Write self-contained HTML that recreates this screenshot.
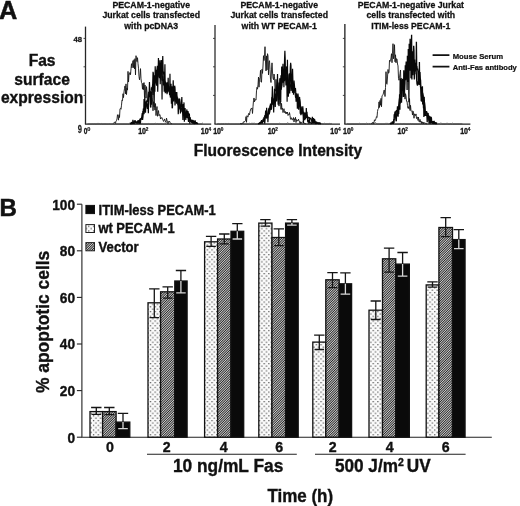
<!DOCTYPE html>
<html><head><meta charset="utf-8"><title>Figure</title>
<style>html,body{margin:0;padding:0;background:#fff;}body{width:520px;height:506px;overflow:hidden;}svg{display:block;will-change:transform;}text{font-family:"Liberation Sans",sans-serif;font-weight:bold;}</style>
</head><body>
<svg width="520" height="506" viewBox="0 0 520 506">
<defs>
<pattern id="dots" patternUnits="userSpaceOnUse" width="4.74" height="4.74"><rect width="4.74" height="4.74" fill="#fbfbfb"/><rect x="0.5" y="0.5" width="1.2" height="1.2" fill="#444"/><rect x="2.87" y="2.87" width="1.2" height="1.2" fill="#444"/></pattern>
<pattern id="hatch" patternUnits="userSpaceOnUse" width="1.7" height="1.7" patternTransform="rotate(-45)"><rect width="1.7" height="1.7" fill="#dadada"/><rect x="0" y="0" width="1.7" height="0.9" fill="#262626"/></pattern>
</defs>
<rect width="520" height="506" fill="#fff"/>
<text transform="translate(-0.9,18.7) scale(1.0,1.02)" font-size="25.3" text-anchor="start" fill="#111" stroke="#111" stroke-width="0.5" >A</text>
<text transform="translate(-0.6,216.3) scale(1.0,1.0)" font-size="24" text-anchor="start" fill="#111" stroke="#111" stroke-width="0.55" >B</text>
<text transform="translate(42.1,66.0) scale(1.0,1.05)" font-size="15.6" text-anchor="middle" fill="#111" stroke="#111" stroke-width="0.35" >Fas</text>
<text transform="translate(42.1,84.9) scale(1.0,1.05)" font-size="15.6" text-anchor="middle" fill="#111" stroke="#111" stroke-width="0.35" >surface</text>
<text transform="translate(42.1,103.3) scale(1.0,1.05)" font-size="15.6" text-anchor="middle" fill="#111" stroke="#111" stroke-width="0.35" >expression</text>
<text transform="translate(151.2,7.7) scale(1.0,1.04)" font-size="8.75" text-anchor="middle" fill="#111" stroke="#111" stroke-width="0.27" >PECAM-1-negative</text>
<text transform="translate(151.2,18.25) scale(1.0,1.04)" font-size="8.75" text-anchor="middle" fill="#111" stroke="#111" stroke-width="0.27" >Jurkat cells transfected</text>
<text transform="translate(151.2,28.8) scale(1.0,1.04)" font-size="8.75" text-anchor="middle" fill="#111" stroke="#111" stroke-width="0.27" >with pcDNA3</text>
<text transform="translate(279.2,7.7) scale(1.0,1.04)" font-size="8.75" text-anchor="middle" fill="#111" stroke="#111" stroke-width="0.27" >PECAM-1-negative</text>
<text transform="translate(279.2,18.25) scale(1.0,1.04)" font-size="8.75" text-anchor="middle" fill="#111" stroke="#111" stroke-width="0.27" >Jurkat cells transfected</text>
<text transform="translate(279.2,28.8) scale(1.0,1.04)" font-size="8.75" text-anchor="middle" fill="#111" stroke="#111" stroke-width="0.27" >with WT PECAM-1</text>
<text transform="translate(410.8,7.7) scale(1.0,1.04)" font-size="8.75" text-anchor="middle" fill="#111" stroke="#111" stroke-width="0.27" >PECAM-1-negative Jurkat</text>
<text transform="translate(410.8,18.25) scale(1.0,1.04)" font-size="8.75" text-anchor="middle" fill="#111" stroke="#111" stroke-width="0.27" >cells transfected with</text>
<text transform="translate(410.8,28.8) scale(1.0,1.04)" font-size="8.75" text-anchor="middle" fill="#111" stroke="#111" stroke-width="0.27" >ITIM-less PECAM-1</text>
<text transform="translate(277.9,156.2) scale(1.0,1.07)" font-size="15.55" text-anchor="middle" fill="#111" stroke="#111" stroke-width="0.35" >Fluorescence Intensity</text>
<path d="M85.5 26.6V124.1" fill="none" stroke="#262626" stroke-width="1.3"/>
<path d="M84.9 124.1H211.2" fill="none" stroke="#222" stroke-width="1.2"/>
<path d="M83.5 38.4H85.5" stroke="#333" stroke-width="0.9"/>
<path d="M83.5 66.8H85.5" stroke="#333" stroke-width="0.9"/>
<path d="M83.5 95.4H85.5" stroke="#333" stroke-width="0.9"/>
<text transform="translate(85.5,133.9) scale(0.78,1.0)" font-size="8.4" text-anchor="middle" fill="#1a1a1a" stroke="#1a1a1a" stroke-width="0.35" >0</text>
<text transform="translate(88.9,130.9) scale(1.0,1.0)" font-size="5.6" text-anchor="middle" fill="#1a1a1a" stroke="#1a1a1a" stroke-width="0.2" >0</text>
<text transform="translate(142.1,133.8) scale(1.0,1.16)" font-size="7.1" text-anchor="middle" fill="#1a1a1a" stroke="#1a1a1a" stroke-width="0.32" >10</text>
<text transform="translate(147.1,130.8) scale(1.0,1.1)" font-size="4.7" text-anchor="middle" fill="#1a1a1a" stroke="#1a1a1a" stroke-width="0.22" >2</text>
<text transform="translate(204.7,133.8) scale(1.0,1.16)" font-size="7.1" text-anchor="middle" fill="#1a1a1a" stroke="#1a1a1a" stroke-width="0.32" >10</text>
<text transform="translate(209.7,130.8) scale(1.0,1.1)" font-size="4.7" text-anchor="middle" fill="#1a1a1a" stroke="#1a1a1a" stroke-width="0.22" >4</text>
<path d="M215.0 25.1V124.1" fill="none" stroke="#4a4a4a" stroke-width="1.5"/>
<path d="M214.4 124.1H340.0" fill="none" stroke="#222" stroke-width="1.2"/>
<path d="M213.0 38.4H215.0" stroke="#333" stroke-width="0.9"/>
<path d="M213.0 66.8H215.0" stroke="#333" stroke-width="0.9"/>
<path d="M213.0 95.4H215.0" stroke="#333" stroke-width="0.9"/>
<text transform="translate(217.1,133.8) scale(1.0,1.16)" font-size="7.1" text-anchor="middle" fill="#1a1a1a" stroke="#1a1a1a" stroke-width="0.32" >10</text>
<text transform="translate(222.1,130.8) scale(1.0,1.1)" font-size="4.7" text-anchor="middle" fill="#1a1a1a" stroke="#1a1a1a" stroke-width="0.22" >0</text>
<text transform="translate(271.6,133.8) scale(1.0,1.16)" font-size="7.1" text-anchor="middle" fill="#1a1a1a" stroke="#1a1a1a" stroke-width="0.32" >10</text>
<text transform="translate(276.6,130.8) scale(1.0,1.1)" font-size="4.7" text-anchor="middle" fill="#1a1a1a" stroke="#1a1a1a" stroke-width="0.22" >2</text>
<text transform="translate(334.2,133.8) scale(1.0,1.16)" font-size="7.1" text-anchor="middle" fill="#1a1a1a" stroke="#1a1a1a" stroke-width="0.32" >10</text>
<text transform="translate(339.2,130.8) scale(1.0,1.1)" font-size="4.7" text-anchor="middle" fill="#1a1a1a" stroke="#1a1a1a" stroke-width="0.22" >4</text>
<path d="M344.85 23.9V124.1" fill="none" stroke="#3c3c3c" stroke-width="1.5"/>
<path d="M344.25 124.1H470.4" fill="none" stroke="#222" stroke-width="1.2"/>
<path d="M342.85 38.4H344.85" stroke="#333" stroke-width="0.9"/>
<path d="M342.85 66.8H344.85" stroke="#333" stroke-width="0.9"/>
<path d="M342.85 95.4H344.85" stroke="#333" stroke-width="0.9"/>
<text transform="translate(347.0,133.8) scale(1.0,1.16)" font-size="7.1" text-anchor="middle" fill="#1a1a1a" stroke="#1a1a1a" stroke-width="0.32" >10</text>
<text transform="translate(352.0,130.8) scale(1.0,1.1)" font-size="4.7" text-anchor="middle" fill="#1a1a1a" stroke="#1a1a1a" stroke-width="0.22" >0</text>
<text transform="translate(401.5,133.8) scale(1.0,1.16)" font-size="7.1" text-anchor="middle" fill="#1a1a1a" stroke="#1a1a1a" stroke-width="0.32" >10</text>
<text transform="translate(406.5,130.8) scale(1.0,1.1)" font-size="4.7" text-anchor="middle" fill="#1a1a1a" stroke="#1a1a1a" stroke-width="0.22" >2</text>
<text transform="translate(464.1,133.8) scale(1.0,1.16)" font-size="7.1" text-anchor="middle" fill="#1a1a1a" stroke="#1a1a1a" stroke-width="0.32" >10</text>
<text transform="translate(469.1,130.8) scale(1.0,1.1)" font-size="4.7" text-anchor="middle" fill="#1a1a1a" stroke="#1a1a1a" stroke-width="0.22" >4</text>
<text transform="translate(77.7,41.5) scale(1.0,1.05)" font-size="7.7" text-anchor="middle" fill="#1a1a1a" stroke="#1a1a1a" stroke-width="0.3" >48</text>
<text transform="translate(79.8,133.2) scale(0.64,1.0)" font-size="11.8" text-anchor="middle" fill="#1a1a1a" stroke="#1a1a1a" stroke-width="0.25" font-weight="normal">9</text>
<path d="M87.50 123.70 L88.20 123.70 L88.90 123.70 L89.60 123.70 L90.30 123.70 L91.00 123.70 L91.70 123.70 L92.40 123.62 L93.10 123.70 L93.80 123.70 L94.50 123.57 L95.20 123.70 L95.90 123.70 L96.60 123.70 L97.30 123.70 L98.00 122.94 L98.70 123.70 L99.40 123.53 L100.10 123.70 L100.80 123.70 L101.50 123.48 L102.20 123.70 L102.90 123.70 L103.60 123.70 L104.30 123.70 L105.00 123.35 L105.70 123.70 L106.40 123.70 L107.10 123.70 L107.80 123.70 L108.50 123.70 L109.20 123.56 L109.90 123.70 L110.60 123.70 L111.30 123.70 L112.00 123.70 L112.70 123.70 L113.40 123.70 L114.10 123.70 L114.80 123.70 L115.50 123.24 L116.20 123.70 L116.90 123.70 L117.60 123.70 L118.30 123.70 L119.00 123.70 L119.70 123.70 L120.40 123.70 L121.10 123.70 L121.80 123.70 L122.50 123.70 L123.20 123.70 L123.90 123.70 L124.60 123.70 L125.30 123.70 L126.00 123.70 L126.70 123.70 L127.40 123.70 L128.10 123.70 L128.80 123.70 L129.50 123.16 L130.20 123.70 L130.90 123.56 L131.60 123.70 L132.30 123.57 L133.00 123.70 L133.70 123.00 L134.40 123.70 L135.10 123.70 L135.80 123.70 L136.50 123.70 L137.20 123.70 L137.90 123.70 L138.60 123.70 L139.30 123.70 L140.00 123.44 L140.70 123.65 L141.40 123.70 L142.10 123.70 L142.80 123.30 L143.50 123.70 L144.20 123.70 L144.90 123.70 L145.60 123.70 L146.30 123.70 L147.00 123.70 L147.70 123.70 L148.40 123.44 L149.10 123.70 L149.80 123.70 L150.50 123.70 L151.20 123.70 L151.90 123.70 L152.60 123.70 L153.30 123.70 L154.00 123.70 L154.70 123.44 L155.40 123.27 L156.10 123.55 L156.80 123.70 L157.50 123.49 L158.20 123.70 L158.90 123.70 L159.60 123.70 L160.30 123.70 L161.00 123.19 L161.70 123.70 L162.40 123.70 L163.10 123.70 L163.80 123.70 L164.50 123.30 L165.20 123.40 L165.90 123.70 L166.60 122.36 L167.30 123.70 L168.00 123.50 L168.70 123.70 L169.40 123.70 L170.10 123.70 L170.80 123.70 L171.50 123.70 L172.20 123.70 L172.90 123.61 L173.60 123.70 L174.30 123.70 L175.00 123.70 L175.70 123.70 L176.40 123.70 L177.10 123.70 L177.80 123.70 L178.50 123.70 L179.20 123.70 L179.90 123.70 L180.60 123.70 L181.30 123.70 L182.00 123.70 L182.70 123.70 L183.40 123.70 L184.10 123.70 L184.80 123.70 L185.50 123.70 L186.20 123.70 L186.90 123.28 L187.60 123.58 L188.30 123.70 L189.00 123.70 L189.70 123.70 L190.40 123.70 L191.10 123.70 L191.80 123.70 L192.50 123.35 L193.20 123.70 L193.90 123.70 L194.60 123.70 L195.30 123.70 L196.00 123.70 L196.70 123.58 L197.40 123.70 L198.10 123.70 L198.80 123.70 L199.50 123.70 L200.20 123.70 L200.90 123.70 L201.60 123.70 L202.30 123.01 L203.00 123.70" fill="none" stroke="#333" stroke-width="0.6"/>
<path d="M113.00 123.07 L113.50 123.15 L114.00 122.63 L114.50 122.21 L115.00 123.01 L115.50 123.31 L116.00 120.94 L116.50 120.57 L117.00 118.98 L117.50 114.71 L118.00 116.55 L118.50 120.16 L119.00 114.68 L119.50 117.54 L120.00 108.77 L120.50 108.33 L121.00 109.25 L121.50 105.17 L122.00 99.95 L122.50 100.60 L123.00 93.72 L123.50 97.61 L124.00 91.71 L124.50 88.48 L125.00 85.92 L125.50 93.82 L126.00 83.89 L126.50 94.58 L127.00 87.99 L127.50 90.11 L128.00 71.39 L128.50 82.04 L129.00 73.77 L129.50 74.21 L130.00 72.44 L130.50 74.71 L131.00 68.83 L131.50 63.70 L132.00 67.86 L132.50 64.10 L133.00 60.66 L133.50 67.64 L134.00 59.70 L134.50 69.00 L135.00 58.61 L135.50 74.94 L136.00 55.70 L136.50 59.41 L137.00 61.63 L137.50 57.70 L138.00 63.55 L138.50 68.16 L139.00 76.63 L139.50 79.82 L140.00 75.81 L140.50 68.64 L141.00 78.86 L141.50 82.57 L142.00 83.65 L142.50 89.24 L143.00 83.28 L143.50 89.67 L144.00 82.57 L144.50 97.08 L145.00 84.98 L145.50 90.90 L146.00 98.16 L146.50 86.64 L147.00 91.97 L147.50 101.44 L148.00 96.06 L148.50 91.83 L149.00 96.19 L149.50 91.95 L150.00 93.15 L150.50 94.36 L151.00 96.37 L151.50 93.28 L152.00 97.36 L152.50 99.80 L153.00 110.75 L153.50 101.79 L154.00 102.12 L154.50 108.72 L155.00 110.15 L155.50 103.56 L156.00 115.59 L156.50 110.40 L157.00 106.56 L157.50 116.29 L158.00 113.04 L158.50 110.57 L159.00 115.74 L159.50 114.74 L160.00 114.65 L160.50 119.05 L161.00 117.99 L161.50 117.87 L162.00 117.50 L162.50 119.44 L163.00 120.01 L163.50 121.44 L164.00 120.59 L164.50 118.95 L165.00 120.39 L165.50 121.97 L166.00 122.18 L166.50 118.11 L167.00 120.32 L167.50 121.17 L168.00 123.70 L168.50 121.59 L169.00 121.90 L169.50 121.13 L170.00 122.49 L170.50 123.13 L171.00 123.09 L171.50 123.70 L172.00 123.33" fill="none" stroke="#151515" stroke-width="0.9" stroke-linejoin="bevel"/>
<path d="M130.00 123.50 L130.36 123.70 L130.72 123.70 L131.08 123.70 L131.44 123.55 L131.80 123.70 L132.16 123.70 L132.52 123.70 L132.88 119.77 L133.24 121.23 L133.60 123.70 L133.96 123.59 L134.32 123.52 L134.68 122.47 L135.04 121.10 L135.40 121.76 L135.76 121.97 L136.12 123.51 L136.48 122.16 L136.84 121.62 L137.20 122.09 L137.56 123.70 L137.92 120.60 L138.28 121.69 L138.64 123.70 L139.00 120.66 L139.36 123.25 L139.72 123.70 L140.08 121.11 L140.44 123.64 L140.80 118.38 L141.16 118.96 L141.52 118.83 L141.88 115.84 L142.24 113.05 L142.60 119.97 L142.96 115.78 L143.32 108.61 L143.68 113.38 L144.04 99.05 L144.40 110.38 L144.76 96.87 L145.12 104.06 L145.48 108.07 L145.84 106.74 L146.20 101.98 L146.56 102.88 L146.92 102.66 L147.28 108.96 L147.64 105.61 L148.00 103.53 L148.36 113.31 L148.72 94.17 L149.08 97.25 L149.44 82.03 L149.80 90.63 L150.16 95.18 L150.52 107.21 L150.88 107.15 L151.24 91.60 L151.60 104.82 L151.96 97.53 L152.32 87.14 L152.68 84.00 L153.04 71.87 L153.40 73.66 L153.76 92.57 L154.12 106.99 L154.48 82.02 L154.84 91.86 L155.20 66.24 L155.56 78.20 L155.92 78.82 L156.28 83.47 L156.64 85.72 L157.00 75.34 L157.36 65.70 L157.72 91.74 L158.08 75.02 L158.44 57.90 L158.80 70.18 L159.16 72.97 L159.52 78.21 L159.88 60.20 L160.24 84.17 L160.60 71.59 L160.96 66.35 L161.32 60.07 L161.68 65.54 L162.04 99.54 L162.40 65.70 L162.76 56.13 L163.12 72.02 L163.48 71.47 L163.84 76.56 L164.20 91.79 L164.56 80.42 L164.92 64.19 L165.28 93.30 L165.64 83.79 L166.00 89.27 L166.36 92.39 L166.72 84.33 L167.08 90.97 L167.44 82.35 L167.80 92.48 L168.16 77.82 L168.52 89.35 L168.88 90.20 L169.24 87.91 L169.60 95.25 L169.96 73.76 L170.32 97.60 L170.68 93.61 L171.04 83.70 L171.40 103.75 L171.76 86.31 L172.12 108.23 L172.48 107.56 L172.84 92.26 L173.20 80.31 L173.56 91.57 L173.92 100.35 L174.28 92.30 L174.64 85.70 L175.00 87.68 L175.36 101.68 L175.72 95.95 L176.08 91.95 L176.44 103.64 L176.80 92.07 L177.16 100.30 L177.52 98.04 L177.88 98.06 L178.24 114.25 L178.60 108.06 L178.96 109.38 L179.32 99.05 L179.68 98.91 L180.04 102.37 L180.40 113.52 L180.76 105.92 L181.12 107.03 L181.48 102.79 L181.84 97.07 L182.20 111.19 L182.56 111.22 L182.92 119.92 L183.28 104.11 L183.64 110.02 L184.00 102.39 L184.36 121.75 L184.72 108.73 L185.08 107.93 L185.44 114.28 L185.80 119.87 L186.16 115.01 L186.52 114.60 L186.88 109.40 L187.24 118.09 L187.60 115.93 L187.96 111.09 L188.32 112.99 L188.68 115.59 L189.04 116.96 L189.40 113.59 L189.76 123.70 L190.12 117.13 L190.48 121.61 L190.84 119.74 L191.20 121.07 L191.56 122.71 L191.92 121.99 L192.28 123.17 L192.64 119.88 L193.00 122.19 L193.36 123.70 L193.72 120.72 L194.08 122.40 L194.44 123.70 L194.80 123.65 L195.16 120.37 L195.52 122.75 L195.88 123.70 L196.24 122.79 L196.60 122.62 L196.96 122.97 L197.32 123.63 L197.68 123.29" fill="none" stroke="#080808" stroke-width="1.2" stroke-linejoin="bevel"/>
<path d="M130.00 123.70 L130.50 123.24 L131.00 123.18 L131.50 122.13 L132.00 123.70 L132.50 122.93 L133.00 123.70 L133.50 121.77 L134.00 122.70 L134.50 121.47 L135.00 120.22 L135.50 122.11 L136.00 122.27 L136.50 122.45 L137.00 122.74 L137.50 122.38 L138.00 120.73 L138.50 121.10 L139.00 120.72 L139.50 120.69 L140.00 118.85 L140.50 119.16 L141.00 119.91 L141.50 117.71 L142.00 117.81 L142.50 118.40 L143.00 111.07 L143.50 111.73 L144.00 114.09 L144.50 107.78 L145.00 108.65 L145.50 112.68 L146.00 101.15 L146.50 103.27 L147.00 99.73 L147.50 101.00 L148.00 101.14 L148.50 104.75 L149.00 93.39 L149.50 95.28 L150.00 95.23 L150.50 91.71 L151.00 91.58 L151.50 87.40 L152.00 90.21 L152.50 86.93 L153.00 95.06 L153.50 85.69 L154.00 79.45 L154.50 75.37 L155.00 82.42 L155.50 79.81 L156.00 69.73 L156.50 78.22 L157.00 71.89 L157.50 66.55 L158.00 74.52 L158.50 67.58 L159.00 77.20 L159.50 71.80 L160.00 73.34 L160.50 73.21 L161.00 69.01 L161.50 63.60 L162.00 80.12 L162.50 80.50 L163.00 76.35 L163.50 85.49 L164.00 79.18 L164.50 79.82 L165.00 84.49 L165.50 81.50 L166.00 92.27 L166.50 82.65 L167.00 94.19 L167.50 91.20 L168.00 91.17 L168.50 91.00 L169.00 86.25 L169.50 90.55 L170.00 93.58 L170.50 90.65 L171.00 87.40 L171.50 94.71 L172.00 93.95 L172.50 90.88 L173.00 95.07 L173.50 101.57 L174.00 87.41 L174.50 89.08 L175.00 105.57 L175.50 98.57 L176.00 97.14 L176.50 95.60 L177.00 97.44 L177.50 101.68 L178.00 105.24 L178.50 101.86 L179.00 99.15 L179.50 106.99 L180.00 107.59 L180.50 105.28 L181.00 112.29 L181.50 107.89 L182.00 109.01 L182.50 106.87 L183.00 110.94 L183.50 112.24 L184.00 111.77 L184.50 111.76 L185.00 114.15 L185.50 113.17 L186.00 111.92 L186.50 111.44 L187.00 111.09 L187.50 117.36 L188.00 117.36 L188.50 121.96 L189.00 114.21 L189.50 119.44 L190.00 118.88 L190.50 118.78 L191.00 122.14 L191.50 120.10 L192.00 120.93 L192.50 123.36 L193.00 121.20 L193.50 120.67 L194.00 123.70 L194.50 121.84 L195.00 122.54 L195.50 122.49 L196.00 122.72 L196.50 122.51 L197.00 123.50 L197.50 123.29 L198.00 123.70" fill="none" stroke="#080808" stroke-width="1.2" stroke-linejoin="bevel"/>
<path d="M217.00 123.70 L217.70 123.70 L218.40 123.47 L219.10 123.70 L219.80 123.70 L220.50 123.70 L221.20 123.70 L221.90 123.48 L222.60 123.70 L223.30 123.70 L224.00 123.70 L224.70 122.97 L225.40 123.70 L226.10 123.51 L226.80 123.70 L227.50 123.70 L228.20 123.70 L228.90 123.27 L229.60 123.70 L230.30 123.70 L231.00 123.70 L231.70 123.70 L232.40 123.70 L233.10 123.70 L233.80 123.70 L234.50 123.70 L235.20 123.70 L235.90 123.70 L236.60 123.70 L237.30 123.70 L238.00 123.70 L238.70 123.70 L239.40 123.70 L240.10 123.70 L240.80 123.70 L241.50 123.70 L242.20 123.70 L242.90 123.01 L243.60 123.70 L244.30 123.70 L245.00 123.64 L245.70 123.70 L246.40 123.70 L247.10 123.70 L247.80 123.70 L248.50 123.70 L249.20 123.05 L249.90 123.70 L250.60 123.70 L251.30 123.70 L252.00 122.78 L252.70 123.70 L253.40 123.70 L254.10 122.76 L254.80 123.70 L255.50 123.70 L256.20 123.70 L256.90 123.70 L257.60 123.70 L258.30 123.61 L259.00 123.70 L259.70 123.70 L260.40 123.70 L261.10 123.70 L261.80 123.70 L262.50 123.70 L263.20 123.31 L263.90 123.70 L264.60 123.70 L265.30 123.70 L266.00 123.70 L266.70 123.56 L267.40 123.70 L268.10 123.70 L268.80 123.70 L269.50 123.70 L270.20 123.70 L270.90 123.70 L271.60 123.70 L272.30 123.70 L273.00 123.70 L273.70 123.70 L274.40 123.70 L275.10 123.70 L275.80 123.70 L276.50 123.62 L277.20 123.70 L277.90 123.70 L278.60 123.70 L279.30 123.30 L280.00 123.28 L280.70 123.70 L281.40 123.70 L282.10 123.70 L282.80 123.70 L283.50 123.70 L284.20 123.70 L284.90 123.70 L285.60 123.70 L286.30 123.70 L287.00 123.70 L287.70 122.56 L288.40 123.70 L289.10 123.70 L289.80 123.70 L290.50 123.70 L291.20 123.70 L291.90 123.70 L292.60 123.70 L293.30 123.40 L294.00 123.70 L294.70 123.70 L295.40 123.70 L296.10 123.35 L296.80 123.70 L297.50 123.70 L298.20 123.70 L298.90 123.70 L299.60 123.70 L300.30 123.70 L301.00 123.05 L301.70 123.02 L302.40 123.70 L303.10 123.70 L303.80 122.60 L304.50 123.70 L305.20 123.70 L305.90 123.70 L306.60 123.70 L307.30 123.70 L308.00 123.70 L308.70 123.70 L309.40 123.70 L310.10 123.70 L310.80 123.70 L311.50 123.70 L312.20 123.70 L312.90 122.98 L313.60 123.70 L314.30 123.70 L315.00 123.70 L315.70 123.70 L316.40 123.70 L317.10 123.52 L317.80 123.70 L318.50 123.70 L319.20 123.70 L319.90 123.70 L320.60 123.70 L321.30 123.70 L322.00 123.25 L322.70 123.70 L323.40 123.70 L324.10 123.70 L324.80 123.09 L325.50 123.70 L326.20 123.70 L326.90 123.70 L327.60 123.70 L328.30 123.70 L329.00 123.70 L329.70 123.39 L330.40 123.70 L331.10 123.70 L331.80 123.32" fill="none" stroke="#333" stroke-width="0.6"/>
<path d="M240.00 123.70 L240.50 123.53 L241.00 123.39 L241.50 123.70 L242.00 123.70 L242.50 123.10 L243.00 123.58 L243.50 122.23 L244.00 121.26 L244.50 121.73 L245.00 121.43 L245.50 120.61 L246.00 116.62 L246.50 122.29 L247.00 115.70 L247.50 116.57 L248.00 117.08 L248.50 113.62 L249.00 113.55 L249.50 114.75 L250.00 111.59 L250.50 110.09 L251.00 108.46 L251.50 108.64 L252.00 107.95 L252.50 113.46 L253.00 106.63 L253.50 100.44 L254.00 97.98 L254.50 101.84 L255.00 99.49 L255.50 99.89 L256.00 100.12 L256.50 90.86 L257.00 87.31 L257.50 89.14 L258.00 84.82 L258.50 77.02 L259.00 87.17 L259.50 79.16 L260.00 77.61 L260.50 70.27 L261.00 82.03 L261.50 82.16 L262.00 69.25 L262.50 73.39 L263.00 66.02 L263.50 55.70 L264.00 60.59 L264.50 56.29 L265.00 46.70 L265.50 60.92 L266.00 70.95 L266.50 55.89 L267.00 69.91 L267.50 53.70 L268.00 55.80 L268.50 74.93 L269.00 62.24 L269.50 60.70 L270.00 69.58 L270.50 79.26 L271.00 82.54 L271.50 69.91 L272.00 62.85 L272.50 71.98 L273.00 77.98 L273.50 79.74 L274.00 74.03 L274.50 76.39 L275.00 88.38 L275.50 91.28 L276.00 79.31 L276.50 91.48 L277.00 89.04 L277.50 89.13 L278.00 99.80 L278.50 100.88 L279.00 106.12 L279.50 98.38 L280.00 104.23 L280.50 101.28 L281.00 109.42 L281.50 103.42 L282.00 109.38 L282.50 108.26 L283.00 112.59 L283.50 110.34 L284.00 108.69 L284.50 112.25 L285.00 112.97 L285.50 111.57 L286.00 113.95 L286.50 112.23 L287.00 113.54 L287.50 112.05 L288.00 115.47 L288.50 114.58 L289.00 114.96 L289.50 112.54 L290.00 115.47 L290.50 118.96 L291.00 119.58 L291.50 117.72 L292.00 118.75 L292.50 119.87 L293.00 119.59 L293.50 117.56 L294.00 121.95 L294.50 118.74 L295.00 119.83 L295.50 117.30 L296.00 122.50 L296.50 119.59 L297.00 120.78 L297.50 120.67 L298.00 120.55 L298.50 119.15 L299.00 121.23 L299.50 121.38 L300.00 123.47 L300.50 121.76 L301.00 123.60 L301.50 122.67 L302.00 122.32 L302.50 121.77 L303.00 122.28 L303.50 122.95 L304.00 122.80 L304.50 123.47 L305.00 123.48 L305.50 123.64 L306.00 123.41" fill="none" stroke="#151515" stroke-width="0.9" stroke-linejoin="bevel"/>
<path d="M258.00 123.70 L258.32 123.70 L258.64 123.70 L258.96 123.58 L259.28 123.70 L259.60 122.94 L259.92 123.66 L260.24 123.70 L260.56 121.57 L260.88 122.01 L261.20 122.25 L261.52 120.10 L261.84 123.70 L262.16 121.85 L262.48 123.67 L262.80 121.11 L263.12 118.72 L263.44 121.12 L263.76 121.33 L264.08 119.40 L264.40 117.75 L264.72 123.70 L265.04 120.43 L265.36 114.77 L265.68 110.47 L266.00 112.85 L266.32 117.60 L266.64 107.83 L266.96 113.92 L267.28 117.82 L267.60 114.85 L267.92 122.28 L268.24 114.92 L268.56 110.14 L268.88 112.08 L269.20 114.40 L269.52 112.75 L269.84 110.71 L270.16 108.07 L270.48 103.46 L270.80 104.65 L271.12 109.09 L271.44 109.00 L271.76 97.35 L272.08 97.17 L272.40 86.21 L272.72 100.01 L273.04 103.27 L273.36 98.41 L273.68 112.39 L274.00 102.16 L274.32 101.59 L274.64 89.89 L274.96 94.83 L275.28 107.08 L275.60 94.31 L275.92 100.10 L276.24 97.47 L276.56 101.54 L276.88 85.14 L277.20 87.33 L277.52 73.98 L277.84 93.54 L278.16 104.85 L278.48 94.78 L278.80 91.04 L279.12 82.52 L279.44 99.72 L279.76 93.43 L280.08 77.94 L280.40 92.53 L280.72 102.01 L281.04 78.65 L281.36 89.77 L281.68 66.56 L282.00 75.61 L282.32 66.66 L282.64 82.63 L282.96 63.70 L283.28 81.29 L283.60 70.28 L283.92 87.35 L284.24 71.36 L284.56 59.10 L284.88 50.70 L285.20 59.13 L285.52 76.48 L285.84 74.25 L286.16 78.77 L286.48 85.33 L286.80 77.54 L287.12 101.73 L287.44 59.70 L287.76 87.17 L288.08 74.30 L288.40 96.66 L288.72 85.01 L289.04 81.16 L289.36 90.91 L289.68 93.41 L290.00 82.68 L290.32 67.17 L290.64 62.70 L290.96 65.44 L291.28 82.10 L291.60 85.56 L291.92 84.97 L292.24 77.20 L292.56 68.70 L292.88 79.86 L293.20 83.47 L293.52 94.74 L293.84 86.20 L294.16 93.05 L294.48 87.63 L294.80 89.91 L295.12 91.10 L295.44 88.11 L295.76 91.80 L296.08 101.62 L296.40 93.24 L296.72 99.98 L297.04 93.64 L297.36 108.75 L297.68 95.58 L298.00 103.88 L298.32 101.26 L298.64 109.75 L298.96 103.44 L299.28 98.62 L299.60 96.96 L299.92 102.08 L300.24 113.80 L300.56 112.88 L300.88 115.24 L301.20 106.61 L301.52 113.31 L301.84 109.26 L302.16 110.76 L302.48 111.30 L302.80 106.27 L303.12 113.45 L303.44 123.30 L303.76 111.69 L304.08 116.57 L304.40 117.06 L304.72 120.10 L305.04 113.82 L305.36 119.34 L305.68 113.32 L306.00 117.73 L306.32 108.03 L306.64 116.94 L306.96 111.80 L307.28 116.11 L307.60 120.79 L307.92 122.38 L308.24 120.81 L308.56 119.68 L308.88 123.70 L309.20 118.90 L309.52 118.58 L309.84 122.90 L310.16 122.34 L310.48 122.92 L310.80 122.58 L311.12 123.70 L311.44 122.81 L311.76 123.70 L312.08 119.68 L312.40 116.78 L312.72 120.19 L313.04 123.70 L313.36 118.11 L313.68 121.57 L314.00 119.71 L314.32 123.70 L314.64 120.66 L314.96 122.59 L315.28 122.46 L315.60 123.70 L315.92 123.70 L316.24 123.70 L316.56 121.63 L316.88 123.70 L317.20 122.91 L317.52 123.03 L317.84 122.62 L318.16 123.47 L318.48 123.70 L318.80 123.04 L319.12 123.70 L319.44 123.42 L319.76 122.41 L320.08 123.42 L320.40 123.70 L320.72 122.83" fill="none" stroke="#080808" stroke-width="1.2" stroke-linejoin="bevel"/>
<path d="M258.00 123.46 L258.50 123.70 L259.00 123.35 L259.50 123.45 L260.00 122.13 L260.50 123.25 L261.00 123.16 L261.50 121.58 L262.00 122.04 L262.50 121.39 L263.00 121.38 L263.50 121.08 L264.00 117.23 L264.50 117.19 L265.00 115.18 L265.50 118.27 L266.00 117.08 L266.50 118.50 L267.00 114.17 L267.50 118.30 L268.00 112.87 L268.50 110.24 L269.00 107.91 L269.50 112.79 L270.00 105.65 L270.50 109.62 L271.00 108.60 L271.50 109.41 L272.00 100.41 L272.50 98.00 L273.00 104.64 L273.50 104.02 L274.00 101.07 L274.50 88.67 L275.00 92.48 L275.50 96.82 L276.00 100.36 L276.50 94.13 L277.00 84.62 L277.50 80.29 L278.00 88.90 L278.50 90.09 L279.00 88.22 L279.50 93.43 L280.00 78.86 L280.50 87.08 L281.00 75.29 L281.50 87.97 L282.00 85.09 L282.50 76.74 L283.00 81.36 L283.50 72.59 L284.00 75.74 L284.50 81.22 L285.00 71.48 L285.50 70.63 L286.00 85.39 L286.50 66.41 L287.00 73.82 L287.50 73.01 L288.00 86.91 L288.50 81.54 L289.00 80.06 L289.50 73.18 L290.00 86.40 L290.50 84.38 L291.00 91.08 L291.50 83.60 L292.00 82.10 L292.50 92.83 L293.00 88.71 L293.50 84.37 L294.00 80.52 L294.50 86.14 L295.00 92.01 L295.50 97.28 L296.00 97.58 L296.50 97.38 L297.00 95.30 L297.50 97.81 L298.00 93.46 L298.50 100.51 L299.00 106.72 L299.50 98.82 L300.00 101.90 L300.50 105.97 L301.00 109.83 L301.50 114.28 L302.00 112.57 L302.50 107.80 L303.00 113.31 L303.50 115.56 L304.00 112.74 L304.50 113.53 L305.00 113.34 L305.50 113.59 L306.00 112.49 L306.50 117.82 L307.00 114.76 L307.50 119.19 L308.00 116.63 L308.50 118.05 L309.00 118.29 L309.50 117.34 L310.00 119.27 L310.50 117.94 L311.00 118.77 L311.50 120.25 L312.00 121.52 L312.50 121.99 L313.00 121.87 L313.50 121.63 L314.00 121.63 L314.50 118.79 L315.00 121.49 L315.50 121.69 L316.00 123.28 L316.50 123.33 L317.00 123.23 L317.50 123.07 L318.00 123.70 L318.50 122.55 L319.00 123.63 L319.50 123.11 L320.00 123.70 L320.50 123.65 L321.00 123.61" fill="none" stroke="#080808" stroke-width="1.2" stroke-linejoin="bevel"/>
<path d="M346.85 123.60 L347.55 123.49 L348.25 123.70 L348.95 123.70 L349.65 123.70 L350.35 123.70 L351.05 123.70 L351.75 123.70 L352.45 123.70 L353.15 123.70 L353.85 123.70 L354.55 123.70 L355.25 123.70 L355.95 123.70 L356.65 123.70 L357.35 123.70 L358.05 123.70 L358.75 123.70 L359.45 123.29 L360.15 123.70 L360.85 123.70 L361.55 123.70 L362.25 123.70 L362.95 123.60 L363.65 123.70 L364.35 123.70 L365.05 123.70 L365.75 123.70 L366.45 123.13 L367.15 123.70 L367.85 123.70 L368.55 122.97 L369.25 123.70 L369.95 123.70 L370.65 123.70 L371.35 123.32 L372.05 123.70 L372.75 123.68 L373.45 123.70 L374.15 123.40 L374.85 123.70 L375.55 122.47 L376.25 123.42 L376.95 123.70 L377.65 123.70 L378.35 123.70 L379.05 123.70 L379.75 123.70 L380.45 123.70 L381.15 123.70 L381.85 123.70 L382.55 123.70 L383.25 123.70 L383.95 123.70 L384.65 123.70 L385.35 123.62 L386.05 122.88 L386.75 123.70 L387.45 123.40 L388.15 123.70 L388.85 123.70 L389.55 123.53 L390.25 123.70 L390.95 123.70 L391.65 123.70 L392.35 123.70 L393.05 123.67 L393.75 123.70 L394.45 123.05 L395.15 123.70 L395.85 123.70 L396.55 123.70 L397.25 123.70 L397.95 123.70 L398.65 123.70 L399.35 123.70 L400.05 123.33 L400.75 123.55 L401.45 123.70 L402.15 123.70 L402.85 123.70 L403.55 123.52 L404.25 123.70 L404.95 123.37 L405.65 123.70 L406.35 123.70 L407.05 123.70 L407.75 123.70 L408.45 123.70 L409.15 123.70 L409.85 123.70 L410.55 123.49 L411.25 123.70 L411.95 123.70 L412.65 123.59 L413.35 123.70 L414.05 123.70 L414.75 123.70 L415.45 123.70 L416.15 123.70 L416.85 123.70 L417.55 123.70 L418.25 123.70 L418.95 123.70 L419.65 123.70 L420.35 123.70 L421.05 123.70 L421.75 123.17 L422.45 123.70 L423.15 123.70 L423.85 123.44 L424.55 123.70 L425.25 123.70 L425.95 123.70 L426.65 123.70 L427.35 123.70 L428.05 123.70 L428.75 123.70 L429.45 123.70 L430.15 123.70 L430.85 123.70 L431.55 123.70 L432.25 123.70 L432.95 123.70 L433.65 122.75 L434.35 123.70 L435.05 123.70 L435.75 123.70 L436.45 123.70 L437.15 123.70 L437.85 123.70 L438.55 123.59 L439.25 123.47 L439.95 123.70 L440.65 123.00 L441.35 123.21 L442.05 123.70 L442.75 123.70 L443.45 123.70 L444.15 123.70 L444.85 123.70 L445.55 123.70 L446.25 123.24 L446.95 123.70 L447.65 123.25 L448.35 123.70 L449.05 123.70 L449.75 123.70 L450.45 123.53 L451.15 123.70 L451.85 123.70 L452.55 123.10 L453.25 123.70 L453.95 123.70 L454.65 123.70 L455.35 123.70 L456.05 123.70 L456.75 123.70 L457.45 123.70 L458.15 123.70 L458.85 123.70 L459.55 123.70 L460.25 123.70 L460.95 123.70 L461.65 123.70 L462.35 123.70" fill="none" stroke="#333" stroke-width="0.6"/>
<path d="M371.00 123.42 L371.50 123.70 L372.00 123.10 L372.50 123.21 L373.00 122.10 L373.50 123.55 L374.00 122.36 L374.50 119.79 L375.00 120.78 L375.50 119.82 L376.00 118.43 L376.50 116.67 L377.00 117.37 L377.50 111.49 L378.00 109.13 L378.50 108.61 L379.00 101.90 L379.50 107.46 L380.00 100.46 L380.50 105.23 L381.00 98.39 L381.50 106.76 L382.00 95.99 L382.50 95.28 L383.00 94.52 L383.50 93.05 L384.00 90.03 L384.50 90.34 L385.00 96.51 L385.50 87.48 L386.00 71.70 L386.50 83.55 L387.00 84.25 L387.50 76.98 L388.00 69.49 L388.50 73.20 L389.00 72.76 L389.50 60.29 L390.00 61.54 L390.50 60.79 L391.00 57.95 L391.50 53.70 L392.00 62.71 L392.50 53.28 L393.00 43.70 L393.50 58.77 L394.00 55.61 L394.50 44.70 L395.00 61.79 L395.50 54.79 L396.00 62.82 L396.50 58.71 L397.00 58.92 L397.50 64.00 L398.00 65.89 L398.50 78.39 L399.00 80.26 L399.50 77.79 L400.00 73.51 L400.50 69.99 L401.00 86.48 L401.50 80.16 L402.00 87.47 L402.50 87.84 L403.00 87.04 L403.50 84.32 L404.00 88.93 L404.50 87.11 L405.00 99.14 L405.50 93.70 L406.00 95.93 L406.50 101.21 L407.00 101.14 L407.50 105.60 L408.00 108.24 L408.50 106.81 L409.00 108.69 L409.50 98.55 L410.00 110.48 L410.50 105.30 L411.00 110.63 L411.50 111.22 L412.00 110.73 L412.50 115.06 L413.00 111.13 L413.50 113.07 L414.00 118.26 L414.50 113.84 L415.00 114.66 L415.50 115.58 L416.00 113.92 L416.50 118.54 L417.00 117.25 L417.50 117.23 L418.00 120.41 L418.50 117.02 L419.00 121.81 L419.50 121.84 L420.00 119.40 L420.50 122.14 L421.00 121.20 L421.50 123.43 L422.00 121.78 L422.50 123.31 L423.00 122.18 L423.50 123.70 L424.00 122.46 L424.50 123.13 L425.00 123.07 L425.50 123.32 L426.00 123.41 L426.50 123.70 L427.00 123.70" fill="none" stroke="#151515" stroke-width="0.9" stroke-linejoin="bevel"/>
<path d="M390.00 123.67 L390.30 123.70 L390.60 122.98 L390.90 123.70 L391.20 122.91 L391.50 123.65 L391.80 122.41 L392.10 123.70 L392.40 121.46 L392.70 123.70 L393.00 122.38 L393.30 123.70 L393.60 122.94 L393.90 123.14 L394.20 114.18 L394.50 117.80 L394.80 113.91 L395.10 111.66 L395.40 114.24 L395.70 114.13 L396.00 120.39 L396.30 121.31 L396.60 113.36 L396.90 116.14 L397.20 114.21 L397.50 113.38 L397.80 110.42 L398.10 116.67 L398.40 111.09 L398.70 113.89 L399.00 104.52 L399.30 108.71 L399.60 94.38 L399.90 109.85 L400.20 78.89 L400.50 84.54 L400.80 85.48 L401.10 78.06 L401.40 96.60 L401.70 97.29 L402.00 83.08 L402.30 86.97 L402.60 78.83 L402.90 82.10 L403.20 88.51 L403.50 96.92 L403.80 70.17 L404.10 96.82 L404.40 90.35 L404.70 89.09 L405.00 82.98 L405.30 65.21 L405.60 79.21 L405.90 67.81 L406.20 61.50 L406.50 69.72 L406.80 63.02 L407.10 89.92 L407.40 55.70 L407.70 74.46 L408.00 82.01 L408.30 49.02 L408.60 54.06 L408.90 102.30 L409.20 43.70 L409.50 55.10 L409.80 70.64 L410.10 38.84 L410.40 57.91 L410.70 46.40 L411.00 78.33 L411.30 49.49 L411.60 34.70 L411.90 79.58 L412.20 51.29 L412.50 54.19 L412.80 75.14 L413.10 59.67 L413.40 54.93 L413.70 45.70 L414.00 50.51 L414.30 79.50 L414.60 59.52 L414.90 74.30 L415.20 62.72 L415.50 70.91 L415.80 69.13 L416.10 69.17 L416.40 41.70 L416.70 66.02 L417.00 66.43 L417.30 70.56 L417.60 68.58 L417.90 71.32 L418.20 81.84 L418.50 79.51 L418.80 70.86 L419.10 84.96 L419.40 62.13 L419.70 84.62 L420.00 72.06 L420.30 78.65 L420.60 80.57 L420.90 89.08 L421.20 101.11 L421.50 99.42 L421.80 87.05 L422.10 101.95 L422.40 86.21 L422.70 104.56 L423.00 95.41 L423.30 100.10 L423.60 98.34 L423.90 117.11 L424.20 96.82 L424.50 104.90 L424.80 115.85 L425.10 112.79 L425.40 115.44 L425.70 112.48 L426.00 115.72 L426.30 114.66 L426.60 115.39 L426.90 114.48 L427.20 122.33 L427.50 113.55 L427.80 113.41 L428.10 113.09 L428.40 116.53 L428.70 115.25 L429.00 122.61 L429.30 123.70 L429.60 116.81 L429.90 116.20 L430.20 123.70 L430.50 117.26 L430.80 123.60 L431.10 116.83 L431.40 118.06 L431.70 121.48 L432.00 122.79 L432.30 122.21 L432.60 123.70 L432.90 120.96 L433.20 123.29 L433.50 123.00 L433.80 123.70 L434.10 120.82 L434.40 122.31 L434.70 122.51 L435.00 123.47 L435.30 123.70 L435.60 123.70 L435.90 122.36 L436.20 123.70 L436.50 122.97 L436.80 123.42" fill="none" stroke="#080808" stroke-width="1.3" stroke-linejoin="bevel"/>
<path d="M390.00 123.70 L390.50 123.46 L391.00 123.66 L391.50 123.70 L392.00 123.28 L392.50 122.84 L393.00 123.53 L393.50 121.81 L394.00 119.21 L394.50 119.48 L395.00 118.48 L395.50 111.44 L396.00 112.22 L396.50 110.21 L397.00 113.95 L397.50 106.40 L398.00 113.94 L398.50 108.97 L399.00 102.83 L399.50 98.26 L400.00 103.58 L400.50 100.59 L401.00 95.68 L401.50 102.74 L402.00 91.02 L402.50 89.11 L403.00 90.90 L403.50 84.03 L404.00 80.40 L404.50 80.36 L405.00 77.66 L405.50 71.81 L406.00 80.27 L406.50 75.52 L407.00 77.23 L407.50 67.39 L408.00 73.24 L408.50 67.15 L409.00 67.96 L409.50 67.58 L410.00 57.41 L410.50 66.05 L411.00 56.53 L411.50 59.05 L412.00 56.64 L412.50 65.46 L413.00 59.92 L413.50 61.34 L414.00 69.45 L414.50 65.98 L415.00 69.92 L415.50 71.35 L416.00 66.23 L416.50 78.00 L417.00 83.84 L417.50 85.63 L418.00 81.25 L418.50 84.24 L419.00 83.05 L419.50 81.95 L420.00 78.10 L420.50 86.87 L421.00 89.00 L421.50 96.59 L422.00 93.86 L422.50 92.69 L423.00 94.54 L423.50 108.35 L424.00 101.66 L424.50 102.54 L425.00 107.21 L425.50 114.69 L426.00 112.37 L426.50 111.26 L427.00 112.97 L427.50 116.93 L428.00 118.22 L428.50 115.88 L429.00 120.66 L429.50 116.62 L430.00 119.32 L430.50 119.50 L431.00 122.27 L431.50 121.90 L432.00 121.15 L432.50 123.58 L433.00 121.21 L433.50 123.70 L434.00 123.69 L434.50 123.02 L435.00 122.95 L435.50 123.04 L436.00 123.62 L436.50 123.68 L437.00 123.70" fill="none" stroke="#080808" stroke-width="1.3" stroke-linejoin="bevel"/>
<path d="M432.6 55.2H449.4M432.6 66.6H449.4" stroke="#111" stroke-width="1.8"/>
<text transform="translate(452.7,59.2) scale(1.0,1.04)" font-size="7.7" text-anchor="start" fill="#111" stroke="#111" stroke-width="0.22" >Mouse Serum</text>
<text transform="translate(452.7,70.2) scale(1.0,1.04)" font-size="7.6" text-anchor="start" fill="#111" stroke="#111" stroke-width="0.22" >Anti-Fas antibody</text>
<path d="M81.9 204.2V437.2H491.8" fill="none" stroke="#222" stroke-width="1.1"/>
<path d="M76.9 437.2H81.9" stroke="#222" stroke-width="1.1"/>
<text transform="translate(75.1,442.5) scale(1.0,1.08)" font-size="13.7" text-anchor="end" fill="#111" stroke="#111" stroke-width="0.35" >0</text>
<path d="M76.9 390.6H81.9" stroke="#222" stroke-width="1.1"/>
<text transform="translate(75.1,395.9) scale(1.0,1.08)" font-size="13.7" text-anchor="end" fill="#111" stroke="#111" stroke-width="0.35" >20</text>
<path d="M76.9 344.0H81.9" stroke="#222" stroke-width="1.1"/>
<text transform="translate(75.1,349.3) scale(1.0,1.08)" font-size="13.7" text-anchor="end" fill="#111" stroke="#111" stroke-width="0.35" >40</text>
<path d="M76.9 297.4H81.9" stroke="#222" stroke-width="1.1"/>
<text transform="translate(75.1,302.7) scale(1.0,1.08)" font-size="13.7" text-anchor="end" fill="#111" stroke="#111" stroke-width="0.35" >60</text>
<path d="M76.9 250.8H81.9" stroke="#222" stroke-width="1.1"/>
<text transform="translate(75.1,256.1) scale(1.0,1.08)" font-size="13.7" text-anchor="end" fill="#111" stroke="#111" stroke-width="0.35" >80</text>
<path d="M76.9 204.2H81.9" stroke="#222" stroke-width="1.1"/>
<text transform="translate(75.1,209.5) scale(1.0,1.08)" font-size="13.7" text-anchor="end" fill="#111" stroke="#111" stroke-width="0.35" >100</text>
<text transform="translate(48.5,321.9) rotate(-90) scale(1,1.05)" font-size="17.45" text-anchor="middle" fill="#111" stroke="#111" stroke-width="0.35">% apoptotic cells</text>
<rect x="90.00" y="411.6" width="12.60" height="25.6" fill="url(#dots)" stroke="#111" stroke-width="1.3"/>
<path d="M96.3 407.5V411.6M91.1 407.5H101.5" stroke="#151515" stroke-width="1.3" fill="none"/>
<path d="M96.3 411.6V414.4M91.5 414.4H101.1" stroke="#151515" stroke-width="1.3" fill="none"/>
<rect x="102.60" y="411.6" width="13.50" height="25.6" fill="url(#hatch)" stroke="#111" stroke-width="1.3"/>
<path d="M109.3 407.5V411.6M104.1 407.5H114.5" stroke="#151515" stroke-width="1.3" fill="none"/>
<path d="M109.3 411.6V414.6M104.5 414.6H114.1" stroke="#151515" stroke-width="1.3" fill="none"/>
<rect x="116.10" y="422.1" width="13.70" height="15.1" fill="#0a0a0a" stroke="#111" stroke-width="1.3"/>
<path d="M123.0 413.3V422.1M117.8 413.3H128.2" stroke="#151515" stroke-width="1.3" fill="none"/>
<path d="M123.0 422.1V428.6M118.2 428.6H127.8" stroke="#d8d8d8" stroke-width="1.3" fill="none"/>
<rect x="148.00" y="302.8" width="12.60" height="134.4" fill="url(#dots)" stroke="#111" stroke-width="1.3"/>
<path d="M154.3 288.9V302.8M149.1 288.9H159.5" stroke="#151515" stroke-width="1.3" fill="none"/>
<path d="M154.3 302.8V317.6M149.5 317.6H159.1" stroke="#151515" stroke-width="1.3" fill="none"/>
<rect x="160.60" y="291.8" width="14.20" height="145.4" fill="url(#hatch)" stroke="#111" stroke-width="1.3"/>
<path d="M167.7 286.8V291.8M162.5 286.8H172.9" stroke="#151515" stroke-width="1.3" fill="none"/>
<path d="M167.7 291.8V298.1M162.9 298.1H172.5" stroke="#151515" stroke-width="1.3" fill="none"/>
<rect x="174.80" y="281.0" width="12.30" height="156.2" fill="#0a0a0a" stroke="#111" stroke-width="1.3"/>
<path d="M180.9 270.5V281.0M175.8 270.5H186.1" stroke="#151515" stroke-width="1.3" fill="none"/>
<path d="M180.9 281.0V292.9M176.2 292.9H185.7" stroke="#d8d8d8" stroke-width="1.3" fill="none"/>
<rect x="204.60" y="241.8" width="13.00" height="195.4" fill="url(#dots)" stroke="#111" stroke-width="1.3"/>
<path d="M211.1 236.4V241.8M205.9 236.4H216.3" stroke="#151515" stroke-width="1.3" fill="none"/>
<path d="M211.1 241.8V246.4M206.3 246.4H215.9" stroke="#151515" stroke-width="1.3" fill="none"/>
<rect x="217.60" y="239.0" width="13.40" height="198.2" fill="url(#hatch)" stroke="#111" stroke-width="1.3"/>
<path d="M224.3 234.0V239.0M219.1 234.0H229.5" stroke="#151515" stroke-width="1.3" fill="none"/>
<path d="M224.3 239.0V243.9M219.5 243.9H229.1" stroke="#151515" stroke-width="1.3" fill="none"/>
<rect x="231.00" y="231.3" width="12.70" height="205.9" fill="#0a0a0a" stroke="#111" stroke-width="1.3"/>
<path d="M237.3 223.7V231.3M232.2 223.7H242.5" stroke="#151515" stroke-width="1.3" fill="none"/>
<path d="M237.3 231.3V239.0M232.6 239.0H242.1" stroke="#d8d8d8" stroke-width="1.3" fill="none"/>
<rect x="258.80" y="223.1" width="13.15" height="214.1" fill="url(#dots)" stroke="#111" stroke-width="1.3"/>
<path d="M265.4 219.6V223.1M260.2 219.6H270.6" stroke="#151515" stroke-width="1.3" fill="none"/>
<path d="M265.4 223.1V226.1M260.6 226.1H270.2" stroke="#151515" stroke-width="1.3" fill="none"/>
<rect x="271.95" y="237.5" width="13.65" height="199.7" fill="url(#hatch)" stroke="#111" stroke-width="1.3"/>
<path d="M278.8 228.9V237.5M273.6 228.9H284.0" stroke="#151515" stroke-width="1.3" fill="none"/>
<path d="M278.8 237.5V245.7M274.0 245.7H283.6" stroke="#151515" stroke-width="1.3" fill="none"/>
<rect x="285.60" y="223.1" width="12.60" height="214.1" fill="#0a0a0a" stroke="#111" stroke-width="1.3"/>
<path d="M291.9 219.6V223.1M286.7 219.6H297.1" stroke="#151515" stroke-width="1.3" fill="none"/>
<path d="M291.9 223.1V225.1M287.1 225.1H296.7" stroke="#d8d8d8" stroke-width="1.3" fill="none"/>
<rect x="312.80" y="342.1" width="13.00" height="95.1" fill="url(#dots)" stroke="#111" stroke-width="1.3"/>
<path d="M319.3 335.1V342.1M314.1 335.1H324.5" stroke="#151515" stroke-width="1.3" fill="none"/>
<path d="M319.3 342.1V349.5M314.5 349.5H324.1" stroke="#151515" stroke-width="1.3" fill="none"/>
<rect x="325.80" y="279.8" width="13.40" height="157.4" fill="url(#hatch)" stroke="#111" stroke-width="1.3"/>
<path d="M332.5 272.7V279.8M327.3 272.7H337.7" stroke="#151515" stroke-width="1.3" fill="none"/>
<path d="M332.5 279.8V287.6M327.7 287.6H337.3" stroke="#151515" stroke-width="1.3" fill="none"/>
<rect x="339.20" y="283.8" width="12.40" height="153.4" fill="#0a0a0a" stroke="#111" stroke-width="1.3"/>
<path d="M345.4 272.8V283.8M340.2 272.8H350.6" stroke="#151515" stroke-width="1.3" fill="none"/>
<path d="M345.4 283.8V294.1M340.6 294.1H350.2" stroke="#d8d8d8" stroke-width="1.3" fill="none"/>
<rect x="369.00" y="310.2" width="13.50" height="127.0" fill="url(#dots)" stroke="#111" stroke-width="1.3"/>
<path d="M375.8 301.0V310.2M370.6 301.0H380.9" stroke="#151515" stroke-width="1.3" fill="none"/>
<path d="M375.8 310.2V319.5M370.9 319.5H380.6" stroke="#151515" stroke-width="1.3" fill="none"/>
<rect x="382.50" y="258.8" width="13.25" height="178.4" fill="url(#hatch)" stroke="#111" stroke-width="1.3"/>
<path d="M389.1 248.2V258.8M383.9 248.2H394.3" stroke="#151515" stroke-width="1.3" fill="none"/>
<path d="M389.1 258.8V272.1M384.3 272.1H393.9" stroke="#151515" stroke-width="1.3" fill="none"/>
<rect x="395.75" y="264.1" width="13.60" height="173.1" fill="#0a0a0a" stroke="#111" stroke-width="1.3"/>
<path d="M402.6 252.5V264.1M397.4 252.5H407.8" stroke="#151515" stroke-width="1.3" fill="none"/>
<path d="M402.6 264.1V276.1M397.8 276.1H407.4" stroke="#d8d8d8" stroke-width="1.3" fill="none"/>
<rect x="426.20" y="284.9" width="12.70" height="152.3" fill="url(#dots)" stroke="#111" stroke-width="1.3"/>
<path d="M432.5 281.9V284.9M427.3 281.9H437.7" stroke="#151515" stroke-width="1.3" fill="none"/>
<path d="M432.5 284.9V287.1M427.7 287.1H437.3" stroke="#151515" stroke-width="1.3" fill="none"/>
<rect x="438.90" y="227.5" width="13.60" height="209.7" fill="url(#hatch)" stroke="#111" stroke-width="1.3"/>
<path d="M445.7 217.6V227.5M440.5 217.6H450.9" stroke="#151515" stroke-width="1.3" fill="none"/>
<path d="M445.7 227.5V236.7M440.9 236.7H450.5" stroke="#151515" stroke-width="1.3" fill="none"/>
<rect x="452.50" y="239.6" width="12.55" height="197.6" fill="#0a0a0a" stroke="#111" stroke-width="1.3"/>
<path d="M458.8 229.7V239.6M453.6 229.7H464.0" stroke="#151515" stroke-width="1.3" fill="none"/>
<path d="M458.8 239.6V248.6M454.0 248.6H463.6" stroke="#d8d8d8" stroke-width="1.3" fill="none"/>
<text transform="translate(110,452.0) scale(1.0,1.03)" font-size="14.2" text-anchor="middle" fill="#111" stroke="#111" stroke-width="0.35" >0</text>
<text transform="translate(166.7,452.0) scale(1.0,1.03)" font-size="14.2" text-anchor="middle" fill="#111" stroke="#111" stroke-width="0.35" >2</text>
<text transform="translate(223.7,452.0) scale(1.0,1.03)" font-size="14.2" text-anchor="middle" fill="#111" stroke="#111" stroke-width="0.35" >4</text>
<text transform="translate(279.3,452.0) scale(1.0,1.03)" font-size="14.2" text-anchor="middle" fill="#111" stroke="#111" stroke-width="0.35" >6</text>
<text transform="translate(332.6,452.0) scale(1.0,1.03)" font-size="14.2" text-anchor="middle" fill="#111" stroke="#111" stroke-width="0.35" >2</text>
<text transform="translate(389.6,452.0) scale(1.0,1.03)" font-size="14.2" text-anchor="middle" fill="#111" stroke="#111" stroke-width="0.35" >4</text>
<text transform="translate(445.6,452.0) scale(1.0,1.03)" font-size="14.2" text-anchor="middle" fill="#111" stroke="#111" stroke-width="0.35" >6</text>
<path d="M147 454.3H296.8M315 454.3H465.6" stroke="#222" stroke-width="1.1"/>
<text transform="translate(228.1,471.7) scale(1.0,1.05)" font-size="17.35" text-anchor="middle" fill="#111" stroke="#111" stroke-width="0.35" >10 ng/mL Fas</text>
<text transform="translate(334.9,471.7) scale(1.0,1.05)" font-size="17.2" text-anchor="start" fill="#111" stroke="#111" stroke-width="0.35" >500 J/m<tspan dy="-5.5" font-size="10.5">2</tspan><tspan dy="5.5" dx="-1.8"> UV</tspan></text>
<text transform="translate(267.4,501.5) scale(1.0,1.06)" font-size="17" text-anchor="start" fill="#111" stroke="#111" stroke-width="0.35" >Time (h)</text>
<rect x="85.9" y="205.4" width="8.6" height="8.2" fill="#0a0a0a" stroke="#111" stroke-width="1"/>
<rect x="85.9" y="224.6" width="8.6" height="7.9" fill="url(#dots)" stroke="#222" stroke-width="1"/>
<rect x="85.9" y="242.6" width="8.6" height="8.2" fill="url(#hatch)" stroke="#222" stroke-width="1"/>
<text transform="translate(98.6,214.7) scale(1.0,1.06)" font-size="12.95" text-anchor="start" fill="#111" stroke="#111" stroke-width="0.35" >ITIM-less PECAM-1</text>
<text transform="translate(98.4,233.3) scale(1.0,1.06)" font-size="12.95" text-anchor="start" fill="#111" stroke="#111" stroke-width="0.35" >wt PECAM-1</text>
<text transform="translate(98.6,251.6) scale(1.0,1.05)" font-size="13.1" text-anchor="start" fill="#111" stroke="#111" stroke-width="0.35" >Vector</text>
</svg></body></html>
